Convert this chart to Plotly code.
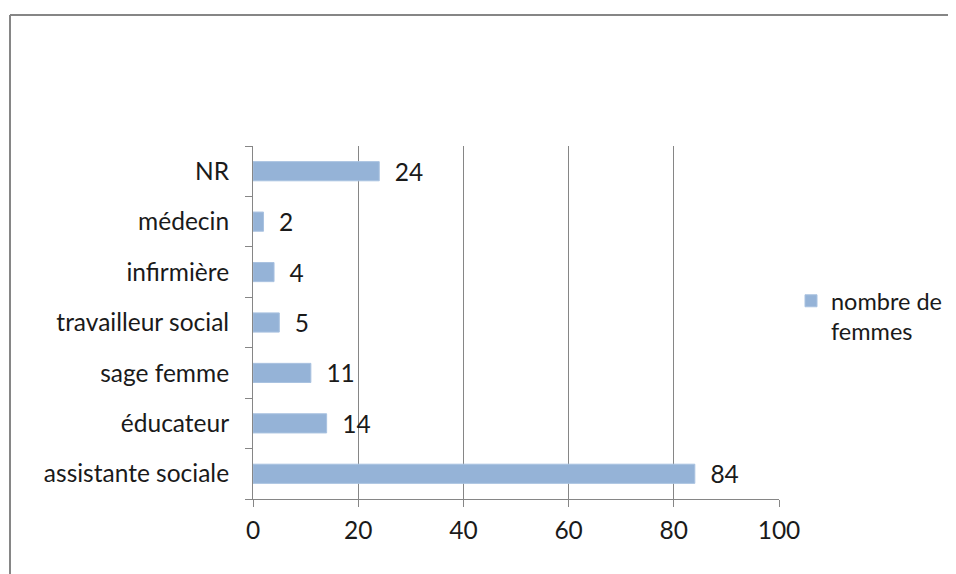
import plotly.graph_objects as go

categories = ["assistante sociale", "éducateur", "sage femme", "travailleur social",
              "infirmière", "médecin", "NR"]
values = [84, 14, 11, 5, 4, 2, 24]
series_name = "nombre de<br>femmes"
x_ticks = [0, 20, 40, 60, 80, 100]

OFF = 8  # page body margin
W, H = 1000, 574 - OFF
L, T = 253 - OFF, 146 - OFF
R = W - (779 - OFF)
B = H - (499 - OFF)
pw, ph = W - L - R, H - T - B

def px_x(p):
    return (p - OFF - L) / pw

def px_y(p):
    return (H - B - (p - OFF)) / ph

FONT = "Lato, 'Open Sans', sans-serif"
GRAY = "#868686"
FS = 24.5

fig = go.Figure()
fig.add_trace(go.Bar(
    y=categories, x=values, orientation="h", name=series_name,
    marker=dict(color="#95b3d7", line=dict(color="#a9c2e0", width=1)),
    text=values, texttemplate="  %{x}", textposition="outside",
    textfont=dict(family=FONT, size=FS, color="#1a1a1a"),
    constraintext="none", cliponaxis=False, showlegend=True,
))

fig.update_layout(
    width=W, height=H,
    margin=dict(l=L, r=R, t=T, b=B, pad=0),
    paper_bgcolor="white", plot_bgcolor="white",
    bargap=0.62,
    font=dict(family=FONT, size=FS, color="#1a1a1a"),
    legend=dict(x=px_x(791), y=px_y(279), xanchor="left", yanchor="top",
                font=dict(size=23.5), itemwidth=30, valign="top",
                bgcolor="rgba(0,0,0,0)"),
    xaxis=dict(range=[0, 100], tickvals=x_ticks, showgrid=True, gridcolor=GRAY, gridwidth=1,
               showline=True, linecolor=GRAY, linewidth=1, ticks="outside", ticklen=7,
               tickcolor=GRAY, zeroline=False, ticklabelstandoff=3),
    yaxis=dict(categoryorder="array", categoryarray=categories, showgrid=False,
               showline=True, linecolor=GRAY, linewidth=1, ticks="outside", ticklen=7,
               tickcolor=GRAY, tickson="boundaries", ticklabelstandoff=18),
    shapes=[
        dict(type="line", xref="paper", yref="paper", x0=px_x(10), x1=px_x(1010),
             y0=px_y(15), y1=px_y(15), line=dict(color=GRAY, width=2)),
        dict(type="line", xref="paper", yref="paper", x0=px_x(10), x1=px_x(10),
             y0=px_y(15), y1=px_y(600), line=dict(color=GRAY, width=2)),
    ],
)

fig.write_html("out.html")
